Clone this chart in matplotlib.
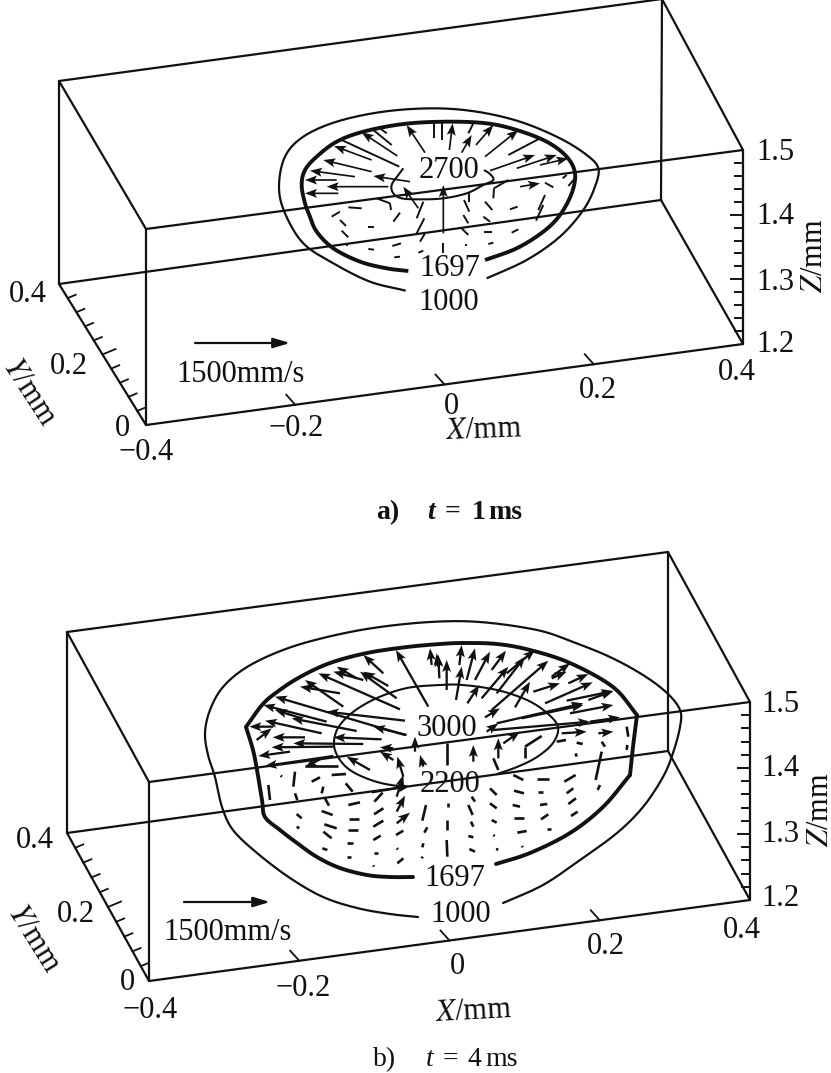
import numpy as np
import matplotlib
matplotlib.use("Agg")
import matplotlib.pyplot as plt
from matplotlib.collections import LineCollection

plt.rcParams['font.family'] = ['Liberation Serif', 'DejaVu Serif']

# ---- box corners (pixels), panel a / panel b
a_front_bl, a_front_br, a_front_tl, a_front_tr = (146, 425), (743, 344), (146, 229), (743, 150)
a_back_bl, a_back_br, a_back_tl, a_back_tr = (59, 284), (661, 200), (59, 81), (662, -1)
b_front_bl, b_front_br, b_front_tl, b_front_tr = (149, 981), (750, 900), (149, 782), (750, 702)
b_back_bl, b_back_br, b_back_tl, b_back_tr = (67, 833), (668, 751), (67, 632), (668, 552)

x_tick_values = [-0.2, 0.0, 0.2]
y_tick_values = [0.04, 0.08, 0.12, 0.16, 0.20, 0.24, 0.28, 0.32, 0.36]
z_tick_values = [1.48, 1.46, 1.44, 1.42, 1.40, 1.38, 1.36, 1.34, 1.32, 1.30, 1.28, 1.26, 1.24, 1.22]

# ---- panel a contours (crop coordinates: 3x, origin 260,100)
a_c1000 = [(437,572),(330,545),(220,490),(130,430),(75,340),(57,260),(75,170),(130,110),(230,65),(370,35),(520,25),(650,35),(780,65),(900,115),(980,165),(1015,205),(1005,260),(970,330),(900,410),(800,480),(680,535)]
a_c1697 = [(445,513),(380,505),(300,485),(220,445),(170,395),(150,350),(135,310),(125,255),(135,210),(170,170),(230,125),(310,95),(430,72),(560,65),(680,70),(770,90),(860,125),(920,170),(945,220),(935,280),(900,345),(850,395),(770,445),(675,480)]
a_c2700 = [(430,205),(415,225),(395,255),(400,280),(425,295),(480,298),(550,295),(620,280),(670,255),(700,240),(690,222),(672,210)]
a_arrows = [((285,230),(150,212)),((230,240),(135,240)),((235,280),(135,280)),((385,260),(200,260)),((335,180),(222,138)),((450,245),(340,228)),((335,215),(190,180)),((412,168),(305,97)),((495,158),(440,75)),((568,150),(578,70)),((605,158),(635,105)),((648,135),(700,75)),((675,170),(775,90)),((770,205),(890,165)),((690,212),(825,165)),((840,195),(925,175)),((780,260),(840,250)),((550,400),(550,255)),((475,325),(430,260))]
a_dashes = [((418,200),(245,120)),((395,135),(340,90)),((380,100),(360,85)),((522,115),(522,70)),((545,120),(545,70)),((625,100),(640,70)),((745,165),(840,115)),((855,248),(880,262)),((908,235),(920,225)),((925,258),(945,235)),((215,350),(240,335)),((265,322),(305,325)),((240,360),(258,378)),((245,392),(265,412)),((325,380),(342,380)),((400,365),(420,338)),((350,295),(390,310)),((390,310),(393,330)),((470,355),(490,305)),((470,400),(493,355)),((480,425),(495,400)),((550,430),(550,460)),((612,300),(628,335)),((628,280),(628,305)),((610,345),(625,370)),((605,385),(625,405)),((675,305),(697,330)),((670,350),(690,365)),((672,395),(697,395)),((615,435),(622,435)),((685,432),(700,428)),((750,328),(773,320)),((755,398),(775,388)),((828,362),(850,315)),((835,330),(855,285)),((700,295),(702,265)),((702,265),(745,240)),((258,435),(265,435)),((325,447),(342,449)),((397,438),(423,430)),((403,472),(420,470)),((475,458),(490,452))]

# ---- panel b contours (absolute pixels, read through 3x crops)
b_c1000 = [(418,917),(390,914),(357,908),(323,897),(290,878),(257,853),(233,830),(222,807),(215,777),(208,755),(205,733),(210,710),(223,687),(247,667),(283,650),(323,638),(373,628),(430,622),(480,622),(537,630),(573,642),(610,657),(643,675),(667,693),(680,710),(680,727),(673,753),(663,777),(643,807),(617,833),(580,860),(543,885),(503,903)]
b_c1697_bottom = [(413,877),(390,877),(367,875),(340,868),(317,857),(297,843),(280,830),(265,817),(262,800),(257,770),(253,750),(246,727)]
b_c1697_top = [(246,727),(262,705),(277,692),(300,677),(330,663),(367,653),(407,647),(440,644),(463,643),(497,644),(530,650),(570,663),(613,687),(637,715)]
b_c1697_right = [(637,715),(633,747),(630,775)]
b_c1697_tail = [(630,775),(603,807),(570,833),(530,853),(496,864)]
b_c3000_l = [(403,787),(377,782),(353,772),(340,760),(334,745),(338,728),(353,712),(377,698),(407,688),(440,685),(463,685),(497,690),(527,700),(547,713),(558,727),(553,743),(537,757),(517,767),(497,774)]
b_arrows_l = [((300,365),(205,378)),((430,350),(245,352)),((345,322),(248,322)),((575,328),(430,322)),((520,342),(310,340)),((410,275),(220,225)),((335,265),(255,240)),((500,303),(305,265)),((395,310),(225,272)),((250,290),(178,290)),((200,330),(245,295)),((645,315),(255,200)),((460,230),(345,150)),((450,190),(330,170)),((630,238),(385,130)),((645,272),(410,245)),((595,168),(520,125)),((580,130),(520,75)),((620,205),(510,125)),((520,150),(430,125)),((500,145),(440,110)),((715,230),(618,60)),((650,315),(550,290)),((540,420),(470,380)),((610,390),(570,365)),((610,355),(570,352)),((430,378),(225,408)),((395,385),(345,412)),((640,440),(622,380)),((545,487),(660,468)),((620,500),(640,435)),((620,545),(645,497)),((620,580),(660,548)),((700,410),(690,375)),((675,365),(675,320)),((725,105),(720,55)),((745,110),(740,70))]
b_dashes_l = [((235,465),(240,510)),((272,437),(276,440)),((315,425),(310,470)),((315,490),(322,510)),((320,552),(335,565)),((320,590),(328,595)),((365,455),(390,442)),((395,490),(400,470)),((405,505),(417,527)),((395,543),(428,555)),((403,583),(440,595)),((400,605),(425,625)),((397,655),(412,660)),((345,408),(445,408)),((425,435),(468,432)),((467,460),(488,485)),((475,525),(510,517)),((478,568),(508,568)),((475,600),(503,600)),((470,640),(488,640)),((470,680),(482,680)),((553,515),(578,488)),((552,553),(580,535)),((550,590),(580,572)),((550,630),(572,617)),((552,668),(565,668)),((550,706),(552,710)),((618,615),(640,602)),((620,655),(624,658)),((622,700),(640,685)),((697,572),(708,525)),((703,608),(712,592)),((697,652),(700,640)),((695,685),(698,680))]
b_arrows_r = [((28,145),(25,75)),((50,180),(50,90)),((78,210),(95,110)),((88,105),(95,45)),((110,150),(135,55)),((112,220),(148,165)),((135,150),(180,65)),((185,120),(228,62)),((155,205),(235,110)),((200,190),(285,80)),((230,130),(315,60)),((165,262),(210,235)),((185,240),(355,92)),((255,232),(300,155)),((310,185),(390,160)),((345,220),(488,157)),((170,305),(205,280)),((200,280),(460,220)),((275,265),(460,225)),((365,140),(420,100)),((365,145),(410,125)),((415,160),(475,132)),((410,212),(550,183)),((475,210),(550,183)),((420,250),(550,225)),((395,310),(470,305)),((505,310),(550,305)),((190,300),(480,275)),((480,275),(570,262)),((205,385),(205,325)),((220,340),(270,305)),((130,395),(130,345))]
b_dashes_r = [((52,405),(52,340)),((205,420),(190,385)),((285,385),(285,350)),((285,350),(335,318)),((380,335),(408,330)),((55,520),(55,530)),((52,570),(52,600)),((50,630),(52,680)),((115,525),(128,555)),((123,575),(130,590)),((115,618),(130,622)),((118,657),(135,665)),((125,500),(135,515)),((180,475),(200,495)),((180,520),(200,535)),((185,570),(200,578)),((190,615),(194,618)),((198,657),(205,659)),((276,648),(278,652)),((250,435),(280,450)),((252,482),(282,490)),((248,525),(270,530)),((252,565),(282,565)),((262,608),(290,603)),((320,447),(358,447)),((325,485),(340,485)),((330,525),(352,522)),((333,568),(355,553)),((350,598),(362,598)),((403,455),(437,435)),((410,490),(430,475)),((415,522),(438,505)),((423,558),(443,545)),((437,370),(440,380)),((440,338),(458,342)),((515,335),(525,350)),((515,365),(497,450)),((503,480),(510,465)),((590,290),(595,320)),((592,345),(590,360))]

# ---- text
contour_labels_a = [("2700", 449, 170), ("1697", 450, 269), ("1000", 449, 302)]
contour_labels_b = [("3000", 447, 728), ("2200", 450, 785), ("1697", 455, 878), ("1000", 461, 914)]
tick_labels_a = [("0.4",28,294),("0.2",69,366),("0",122,429),("\u22120.4",146,452),("\u22120.2",296,429),("0",451,407),("0.2",598,391),("0.4",737,372),("1.5",775,152),("1.4",775,216),("1.3",775,282),("1.2",775,345)]
tick_labels_b = [("0.4",35,840),("0.2",76,914),("0",127,982),("\u22120.4",150,1010),("\u22120.2",303,989),("0",457,967),("0.2",606,947),("0.4",742,930),("1.5",780,705),("1.4",780,769),("1.3",780,834),("1.2",780,898)]

FS = 22
INK = '#111111'
fig = plt.figure(figsize=(8.31, 10.73), dpi=100, facecolor='white')
ax = fig.add_axes([0, 0, 1, 1])
ax.set_xlim(0, 831)
ax.set_ylim(1073, 0)
ax.axis('off')


def crop(points, x0, y0):
    arr = np.asarray(points, dtype=float)
    return x0 + arr[..., 0] / 3, y0 + arr[..., 1] / 3


def smooth(xs, ys):
    """Catmull-Rom drawing path through the read points."""
    p = np.column_stack([xs, ys])
    p = np.vstack([2 * p[0] - p[1], p, 2 * p[-1] - p[-2]])
    out = []
    for i in range(1, len(p) - 2):
        for t in np.linspace(0, 1, 10, endpoint=False):
            out.append(0.5 * (2 * p[i] + (p[i + 1] - p[i - 1]) * t
                              + (2 * p[i - 1] - 5 * p[i] + 4 * p[i + 1] - p[i + 2]) * t ** 2
                              + (3 * p[i] - p[i - 1] - 3 * p[i + 1] + p[i + 2]) * t ** 3))
    out.append(p[-2])
    out = np.array(out)
    return out[:, 0], out[:, 1]


def curve(points, x0, y0, lw):
    xs, ys = crop(points, x0, y0)
    sx, sy = smooth(xs, ys)
    ax.plot(sx, sy, color=INK, lw=lw, solid_capstyle='butt', solid_joinstyle='round')


def curve_abs(points, lw):
    arr = np.asarray(points, dtype=float)
    sx, sy = smooth(arr[:, 0], arr[:, 1])
    ax.plot(sx, sy, color=INK, lw=lw, solid_capstyle='round', solid_joinstyle='round')


def arrows(pairs, x0, y0, width):
    xs, ys = crop(pairs, x0, y0)
    ax.quiver(xs[:, 0], ys[:, 0], xs[:, 1] - xs[:, 0], ys[:, 1] - ys[:, 0], angles='xy',
              scale_units='xy', scale=1, units='dots', width=width, headwidth=9 / width,
              headlength=12 / width, headaxislength=10 / width, color=INK, zorder=3)


def dashes(pairs, x0, y0, lw):
    xs, ys = crop(pairs, x0, y0)
    segs = np.stack([xs, ys], axis=-1)
    ax.add_collection(LineCollection(segs, colors=INK, linewidths=lw, zorder=3))


def box(fbl, fbr, ftl, ftr, bbl, bbr, btl, btr):
    edges = [(fbl, fbr), (ftl, ftr), (fbl, ftl), (fbr, ftr), (bbl, btl), (btl, btr),
             (btr, ftr), (btl, ftl), (bbl, fbl), (bbl, bbr), (bbr, fbr), (bbr, btr)]
    for p, q in edges:
        ax.plot([p[0], q[0]], [p[1], q[1]], color=INK, lw=1.6, solid_capstyle='round', zorder=2)
    fbl, fbr, bbl, ftr = map(np.array, (fbl, fbr, bbl, ftr))
    for v in x_tick_values:
        p = fbl + (v + 0.4) / 0.8 * (fbr - fbl)
        ax.plot([p[0] - 9, p[0]], [p[1] - 10, p[1]], color=INK, lw=1.3)
    for v in y_tick_values:
        p = fbl + v / 0.4 * (bbl - fbl)
        n = 13 if abs(v - 0.2) < 1e-6 else 8
        ax.plot([p[0], p[0] + n], [p[1], p[1] - n * 0.42], color=INK, lw=1.3)
    for v in z_tick_values:
        p = fbr + (v - 1.2) / 0.3 * (ftr - fbr)
        n = 12 if abs(v - 1.4) < 1e-6 or abs(v - 1.3) < 1e-6 else 8
        ax.plot([p[0] - n, p[0]], [p[1], p[1]], color=INK, lw=1.4)


def labels(items):
    for s, x, y in items:
        ax.text(x, y, s, fontsize=FS, ha='center', va='center', color=INK)


# panel a
box(a_front_bl, a_front_br, a_front_tl, a_front_tr, a_back_bl, a_back_br, a_back_tl, a_back_tr)
curve(a_c1000, 260, 100, 1.6)
curve(a_c1697, 260, 100, 2.8)
curve(a_c2700, 260, 100, 1.5)
arrows(a_arrows, 260, 100, 1.7)
dashes(a_dashes, 260, 100, 1.4)
labels(contour_labels_a)
labels(tick_labels_a)

# panel b
box(b_front_bl, b_front_br, b_front_tl, b_front_tr, b_back_bl, b_back_br, b_back_tl, b_back_tr)
curve_abs(b_c1000, 1.6)
curve_abs(b_c1697_bottom, 2.8)
curve_abs(b_c1697_top, 2.8)
curve_abs(b_c1697_right, 2.8)
curve_abs(b_c1697_tail, 2.8)
curve_abs(b_c3000_l, 1.5)
arrows(b_arrows_l, 190, 630, 2.3)
dashes(b_dashes_l, 190, 630, 1.9)
arrows(b_arrows_r, 430, 630, 2.3)
dashes(b_dashes_r, 430, 630, 1.9)
labels(contour_labels_b)
labels(tick_labels_b)

# scale arrows and their text
for x0, x1, y, tx, ty in [(195, 290, 343, 241, 374), (184, 270, 902, 228, 933)]:
    ax.annotate('', xy=(x1, y), xytext=(x0, y),
                arrowprops=dict(arrowstyle='-|>,head_length=1.0,head_width=0.3', lw=1.6, color=INK,
                                shrinkA=0, shrinkB=0))
    ax.text(tx, ty, '1500mm/s', fontsize=FS, ha='center', va='center', color=INK)


def axis_title(letter, x, y, rot):
    ax.text(x, y, r'$\mathit{' + letter + r'}$/mm', fontsize=FS, ha='center', va='center',
            rotation=rot, rotation_mode='anchor', color=INK, math_fontfamily='stix')


axis_title('X', 484, 430, 2)
axis_title('Y', 29, 392, -57)
axis_title('Z', 815, 256, 90)
axis_title('X', 474, 1012, 3)
axis_title('Y', 34, 938, -58)
axis_title('Z', 820, 810, 90)

# captions: tag, t, =, value, ms placed at their read left edges
caption_rows = [('a)', '1', 519, 376, 427, 445, 472, 488, 'bold'),
                ('b)', '4', 1066, 373, 426, 443, 467, 485, 'normal')]
for tag, value, y, x_tag, x_t, x_eq, x_val, x_ms, wt in caption_rows:
    for s, x, style in [(tag, x_tag, 'normal'), ('t', x_t, 'italic'), ('=', x_eq, 'normal'),
                        (value, x_val, 'normal'), ('ms', x_ms, 'normal')]:
        ax.text(x, y, s, fontsize=20, ha='left', va='baseline', style=style, weight=wt, color=INK)

fig.savefig('out.png', dpi=100, facecolor='white')
